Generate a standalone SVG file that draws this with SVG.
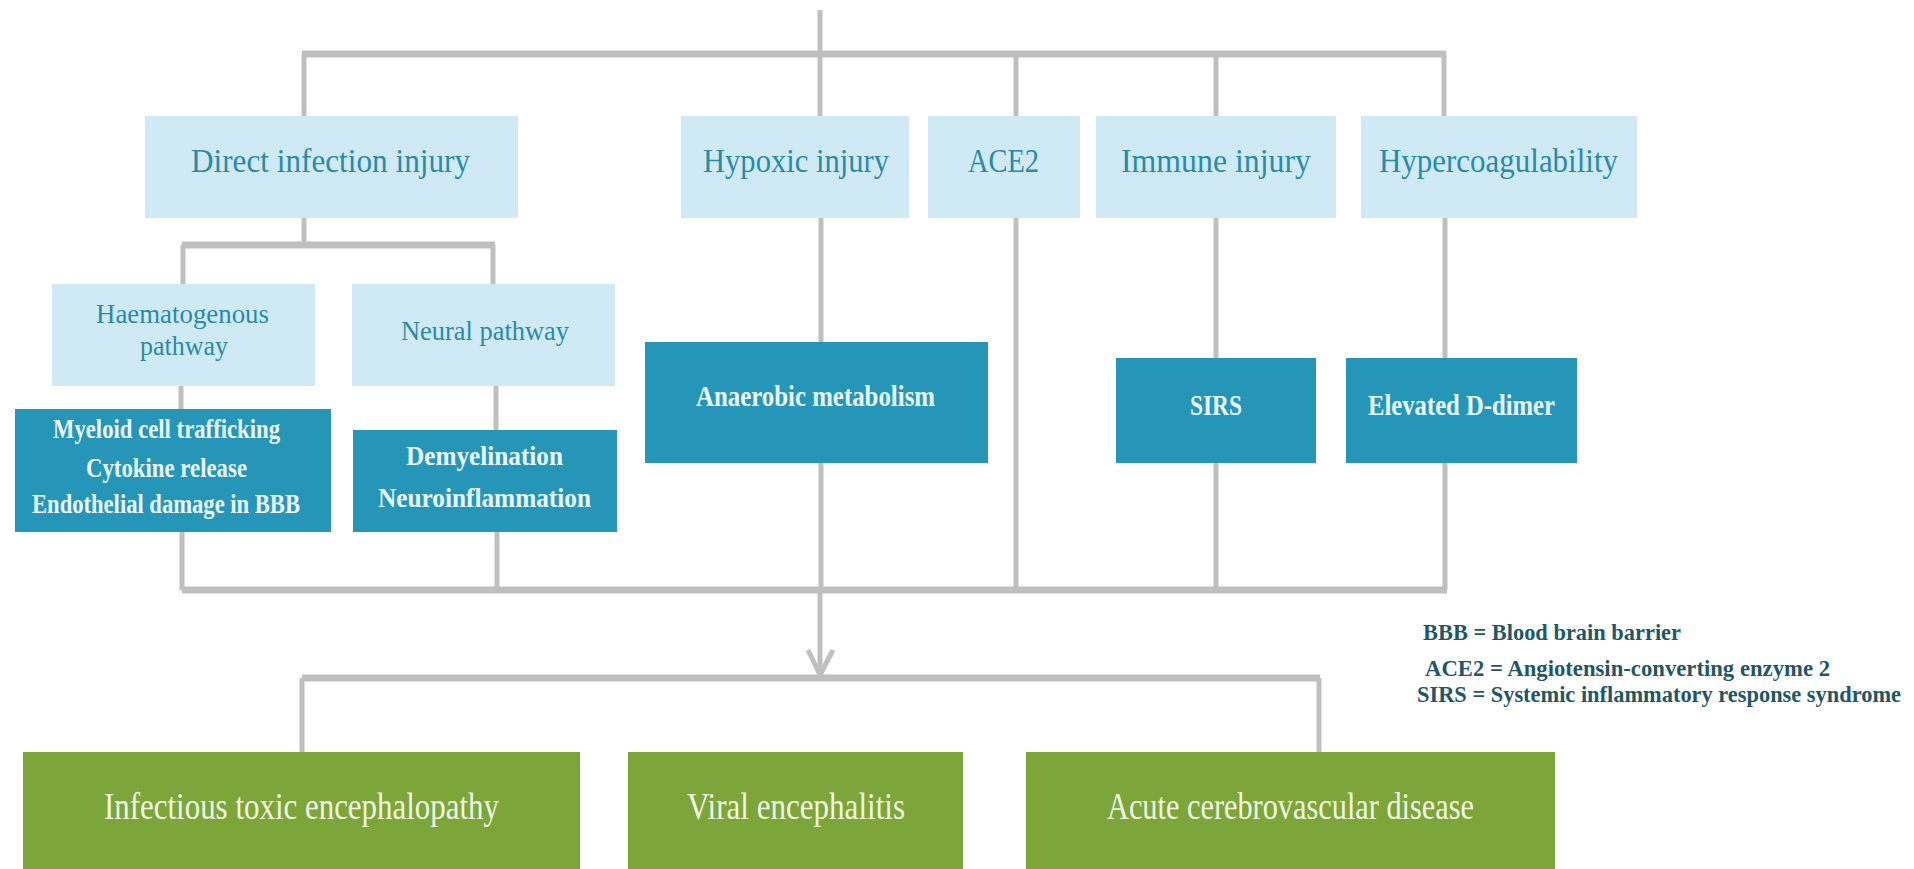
<svg xmlns="http://www.w3.org/2000/svg" width="1914" height="869" viewBox="0 0 1914 869">
<style>
.light{fill:#cfeaf5}
.dark{fill:#2596b8}
.green{fill:#7ca63a}
.ln{stroke:#bfbfbf;stroke-width:5;fill:none}
.bar{stroke:#bfbfbf;stroke-width:7;fill:none}
text{font-family:"Liberation Serif","DejaVu Serif",serif}
.tl{fill:#2a8ba6;font-size:33px}
.ts{fill:#2a8ba6;font-size:27px}
.td{fill:#eaf7f9;font-size:27px;font-weight:bold}
.tdl{fill:#eaf7f9;font-size:30px;font-weight:bold}
.tg{fill:#f2f6e4;font-size:38px}
.leg{fill:#1f5766;font-size:23px;font-weight:bold}
</style>
<rect width="1914" height="869" fill="#ffffff"/>
<g id="connectors">
<path class="ln" d="M820 10V54"/>
<path class="bar" d="M302 54H1446"/>
<path class="ln" d="M304 54V116M820 54V116M1016 54V116M1216 54V116M1444 54V116"/>
<path class="ln" d="M304 218V245"/>
<path class="bar" d="M182 245H495"/>
<path class="ln" d="M183 245V284M493 245V284"/>
<path class="ln" d="M181 386V409M496 386V430"/>
<path class="ln" d="M182 532V590M497 532V590"/>
<path class="ln" d="M821 218V342M821 463V590"/>
<path class="ln" d="M1016 218V590"/>
<path class="ln" d="M1216 218V358M1216 463V590"/>
<path class="ln" d="M1445 218V358M1445 463V590"/>
<path class="bar" d="M182 590H1447"/>
<path class="ln" d="M820 590V675"/>
<path class="ln" d="M808 650L820 675L833 650"/>
<path class="bar" d="M302 678H1320"/>
<path class="ln" d="M302 678V752M1319 678V752"/>
</g>
<g id="direct"><rect class="light" x="145" y="116" width="373" height="102"/><text class="tl" x="191" y="172" textLength="279" lengthAdjust="spacingAndGlyphs">Direct infection injury</text></g>
<g id="hypoxic"><rect class="light" x="681" y="116" width="228" height="102"/><text class="tl" x="703" y="172" textLength="186" lengthAdjust="spacingAndGlyphs">Hypoxic injury</text></g>
<g id="ace2"><rect class="light" x="928" y="116" width="152" height="102"/><text class="tl" x="968" y="172" textLength="71" lengthAdjust="spacingAndGlyphs">ACE2</text></g>
<g id="immune"><rect class="light" x="1096" y="116" width="240" height="102"/><text class="tl" x="1121" y="172" textLength="190" lengthAdjust="spacingAndGlyphs">Immune injury</text></g>
<g id="hypercoag"><rect class="light" x="1361" y="116" width="276" height="102"/><text class="tl" x="1379" y="172" textLength="239" lengthAdjust="spacingAndGlyphs">Hypercoagulability</text></g>
<g id="haem"><rect class="light" x="52" y="284" width="263" height="102"/><text class="ts" x="96" y="323" textLength="173" lengthAdjust="spacingAndGlyphs">Haematogenous</text><text class="ts" x="140" y="355" textLength="88" lengthAdjust="spacingAndGlyphs">pathway</text></g>
<g id="neural"><rect class="light" x="352" y="284" width="263" height="102"/><text class="ts" x="401" y="340" textLength="168" lengthAdjust="spacingAndGlyphs">Neural pathway</text></g>
<g id="myeloid"><rect class="dark" x="15" y="409" width="316" height="123"/><text class="td" x="53" y="438" textLength="227" lengthAdjust="spacingAndGlyphs">Myeloid cell trafficking</text><text class="td" x="86" y="477" textLength="161" lengthAdjust="spacingAndGlyphs">Cytokine release</text><text class="td" x="32" y="513" textLength="268" lengthAdjust="spacingAndGlyphs">Endothelial damage in BBB</text></g>
<g id="demyel"><rect class="dark" x="353" y="430" width="264" height="102"/><text class="td" x="406" y="465" textLength="157" lengthAdjust="spacingAndGlyphs">Demyelination</text><text class="td" x="378" y="507" textLength="213" lengthAdjust="spacingAndGlyphs">Neuroinflammation</text></g>
<g id="anaerobic"><rect class="dark" x="645" y="342" width="343" height="121"/><text class="tdl" x="696" y="406" textLength="239" lengthAdjust="spacingAndGlyphs">Anaerobic metabolism</text></g>
<g id="sirs"><rect class="dark" x="1116" y="358" width="200" height="105"/><text class="tdl" x="1190" y="415" textLength="52" lengthAdjust="spacingAndGlyphs">SIRS</text></g>
<g id="ddimer"><rect class="dark" x="1346" y="358" width="231" height="105"/><text class="tdl" x="1368" y="415" textLength="187" lengthAdjust="spacingAndGlyphs">Elevated D-dimer</text></g>
<g id="infectious"><rect class="green" x="23" y="752" width="557" height="117"/><text class="tg" x="104" y="819" textLength="395" lengthAdjust="spacingAndGlyphs">Infectious toxic encephalopathy</text></g>
<g id="viral"><rect class="green" x="628" y="752" width="335" height="117"/><text class="tg" x="687" y="819" textLength="218" lengthAdjust="spacingAndGlyphs">Viral encephalitis</text></g>
<g id="acute"><rect class="green" x="1026" y="752" width="529" height="117"/><text class="tg" x="1107" y="819" textLength="367" lengthAdjust="spacingAndGlyphs">Acute cerebrovascular disease</text></g>
<g id="legend">
<text class="leg" x="1423" y="640" textLength="258" lengthAdjust="spacingAndGlyphs">BBB = Blood brain barrier</text>
<text class="leg" x="1425" y="676" textLength="405" lengthAdjust="spacingAndGlyphs">ACE2 = Angiotensin-converting enzyme 2</text>
<text class="leg" x="1417" y="702" textLength="484" lengthAdjust="spacingAndGlyphs">SIRS = Systemic inflammatory response syndrome</text>
</g>
</svg>
